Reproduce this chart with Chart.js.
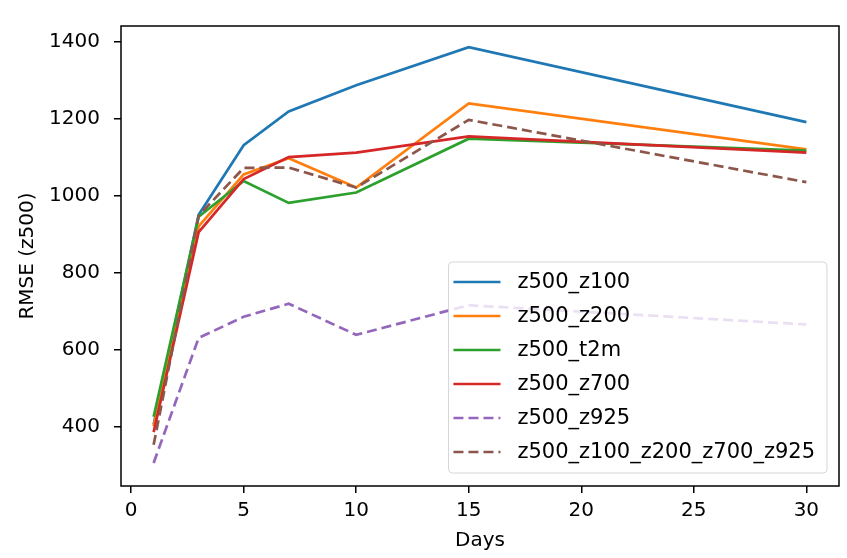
<!DOCTYPE html>
<html>
<head>
<meta charset="utf-8">
<title>RMSE (z500)</title>
<script src="https://cdn.jsdelivr.net/npm/chart.js@4.4.1/dist/chart.umd.min.js"></script>
<style>
  html, body { margin: 0; padding: 0; background: #fff; }
  #wrap { width: 847px; height: 558px; }
</style>
</head>
<body>
<div id="wrap"><canvas id="chart" width="847" height="558"></canvas></div>
<script>
'use strict';

// lead time in days
const days = [1, 3, 5, 7, 10, 15, 30];

const z500_z100 = [405, 950, 1131, 1219, 1287, 1386, 1191];
const z500_z200 = [400, 920, 1055, 1097, 1021, 1240, 1120];
const z500_t2m = [425, 945, 1038, 981, 1008, 1148, 1117];
const z500_z700 = [385, 905, 1043, 1100, 1112, 1154, 1112];
const z500_z925 = [305, 630, 685, 719, 638, 715, 665];
const z500_all = [352, 948, 1072, 1073, 1021, 1197, 1035];

const seriesNames = ['z500_z100', 'z500_z200', 'z500_t2m', 'z500_z700', 'z500_z925', 'z500_z100_z200_z700_z925'];
const seriesValues = [z500_z100, z500_z200, z500_t2m, z500_z700, z500_z925, z500_all];
const seriesColors = ['#1f77b4', '#ff7f0e', '#2ca02c', '#d62728', '#9467bd', '#8c564b'];
const seriesDashed = [false, false, false, false, true, true];

const xTicks = [0, 5, 10, 15, 20, 25, 30];
const yTicks = [400, 600, 800, 1000, 1200, 1400];

const FONT = 'DejaVu Sans';
Chart.defaults.font.family = FONT;
Chart.defaults.font.size = 20;
Chart.defaults.color = '#000';

// matplotlib-like frame around the axes
const framePlugin = {
  id: 'frame',
  afterDraw(chart) {
    const a = chart.chartArea;
    const ctx = chart.ctx;
    ctx.save();
    ctx.strokeStyle = '#000';
    ctx.lineWidth = 1.5;
    ctx.strokeRect(a.left, a.top, a.right - a.left, a.bottom - a.top);
    ctx.restore();
  }
};

// legend drawn inside the axes, lower right, like matplotlib's "best"
const insideLegend = {
  id: 'insideLegend',
  afterDraw(chart) {
    const a = chart.chartArea;
    const ctx = chart.ctx;
    const sets = chart.data.datasets;
    ctx.save();
    ctx.font = '21px ' + FONT;
    let textW = 0;
    sets.forEach(ds => { textW = Math.max(textW, ctx.measureText(ds.label).width); });
    const rowH = 34;
    const w = textW + 69 + 12;
    const h = sets.length * rowH + 7;
    const x0 = a.right - 12 - w;
    const y0 = a.bottom - 13 - h;

    ctx.beginPath();
    ctx.roundRect(x0, y0, w, h, 4);
    ctx.fillStyle = 'rgba(255,255,255,0.8)';
    ctx.fill();
    ctx.strokeStyle = 'rgba(204,204,204,0.8)';
    ctx.lineWidth = 1;
    ctx.stroke();

    sets.forEach((ds, i) => {
      const cy = y0 + 20 + i * rowH;
      ctx.beginPath();
      ctx.setLineDash(ds.borderDash || []);
      ctx.strokeStyle = ds.borderColor;
      ctx.lineWidth = ds.borderWidth;
      ctx.moveTo(x0 + 5, cy);
      ctx.lineTo(x0 + 52, cy);
      ctx.stroke();
      ctx.setLineDash([]);
      ctx.fillStyle = '#000';
      ctx.textBaseline = 'middle';
      ctx.fillText(ds.label, x0 + 69, cy + 1);
    });
    ctx.restore();
  }
};

const datasets = seriesNames.map((name, i) => ({
  label: name,
  data: days.map((d, j) => ({ x: d, y: seriesValues[i][j] })),
  borderColor: seriesColors[i],
  backgroundColor: seriesColors[i],
  borderWidth: 2.7,
  borderDash: seriesDashed[i] ? [10, 5] : [],
  pointRadius: 0,
  tension: 0,
  fill: false,
  order: seriesNames.length - i
}));

new Chart(document.getElementById('chart'), {
  type: 'line',
  data: { datasets: datasets },
  options: {
    responsive: false,
    animation: false,
    layout: { padding: { top: 17, right: 8, left: 0, bottom: 0 } },
    plugins: {
      legend: { display: false },
      tooltip: { enabled: false }
    },
    scales: {
      x: {
        type: 'linear',
        min: -0.45,
        max: 31.45,
        afterBuildTicks: scale => { scale.ticks = xTicks.map(v => ({ value: v })); },
        afterFit: scale => { scale.height = 72; },
        grid: { drawOnChartArea: false, drawTicks: true, tickLength: 7, color: '#000', lineWidth: 1.5 },
        border: { display: false },
        ticks: { padding: 6, maxRotation: 0, font: { size: 20 }, callback: v => String(v) },
        title: { display: true, text: 'Days', font: { size: 20 }, padding: { top: 0, bottom: 5 } }
      },
      y: {
        type: 'linear',
        min: 245,
        max: 1441,
        afterBuildTicks: scale => { scale.ticks = yTicks.map(v => ({ value: v })); },
        afterFit: scale => { scale.width = 121; },
        grid: { drawOnChartArea: false, drawTicks: true, tickLength: 7, color: '#000', lineWidth: 1.5 },
        border: { display: false },
        ticks: { padding: 14, font: { size: 20 }, callback: v => String(v) },
        title: { display: true, text: 'RMSE (z500)', font: { size: 20 }, padding: { top: 16, bottom: 0 } }
      }
    }
  },
  plugins: [framePlugin, insideLegend]
});
</script>
</body>
</html>
